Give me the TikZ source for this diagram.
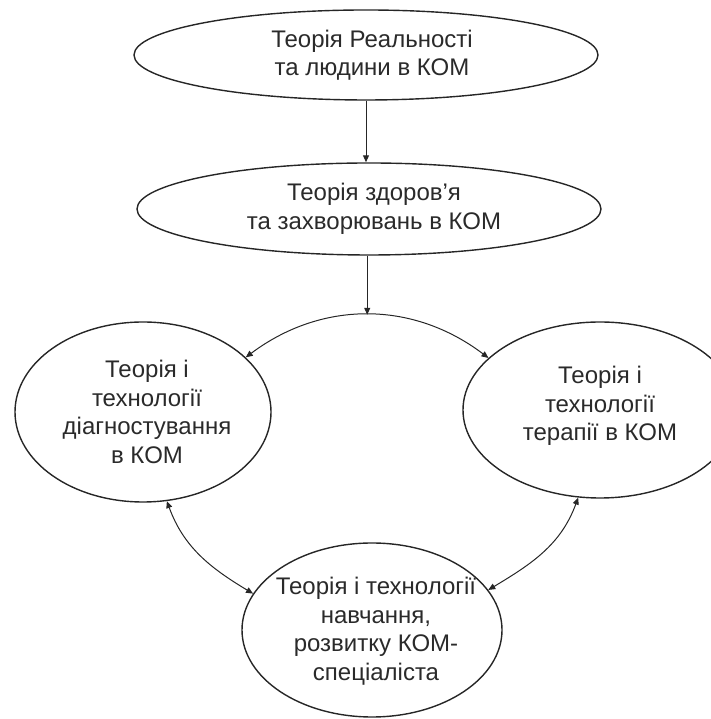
\documentclass[tikz,border=0pt]{standalone}
\usepackage{fontspec}
\setmainfont{Liberation Sans}
\usetikzlibrary{shapes.geometric,arrows.meta}

\definecolor{ink}{HTML}{262626}
\definecolor{txtgray}{HTML}{2A2A2A}

\tikzset{
  oval/.style={ellipse, draw=ink, line width=1.4pt, inner sep=0pt},
  lbl/.style={align=center, text=txtgray, inner sep=0pt,
              font=\fontsize{24}{28.5}\selectfont},
  link/.style={draw=ink, line width=1pt,
               -{Triangle[length=7pt,width=6pt]}},
  dlink/.style={draw=ink, line width=1pt,
               {Triangle[length=7pt,width=6pt]}-{Triangle[length=7pt,width=6pt]}}
}

\begin{document}
\begin{tikzpicture}[x=1pt,y=1pt]
  \useasboundingbox (0,0) rectangle (710,719);

  % ellipses
  \node[oval, minimum width=464pt, minimum height=90pt]  (e1) at (366,664) {};
  \node[oval, minimum width=464pt, minimum height=92pt]  (e2) at (369,510) {};
  \node[oval, minimum width=256pt, minimum height=180pt] (le) at (143,307) {};
  \node[oval, minimum width=274pt, minimum height=176pt] (re) at (600,309) {};
  \node[oval, minimum width=260pt, minimum height=174pt] (be) at (372,89) {};

  % captions
  \node[lbl] (t1) at (372,664) {Теорія Реальності\\та людини в КОМ};
  \node[lbl] (t2) at (374,510) {Теорія здоров’я\\та захворювань в КОМ};
  \node[lbl] (tl) at (147,307) {Теорія і\\технології\\діагностування\\в КОМ};
  \node[lbl] (tr) at (600,313) {Теорія і\\технології\\терапії в КОМ};
  \node[lbl] (tb) at (376,88)  {Теорія і технології\\навчання,\\розвитку КОМ-\\спеціаліста};

  % connectors
  \draw[link] (e1.south) -- (e1.south |- e2.north);
  \draw[dlink] (le.28) to[bend left=37] coordinate[pos=0.5] (top) (re.155);
  \draw[link] (e2.south -| top) -- (top);
  \draw[dlink] (le.-75) to[out=-70, in=149] (be.163);
  \draw[dlink] (re.-104) to[out=-110, in=31] (be.19);
\end{tikzpicture}
\end{document}
